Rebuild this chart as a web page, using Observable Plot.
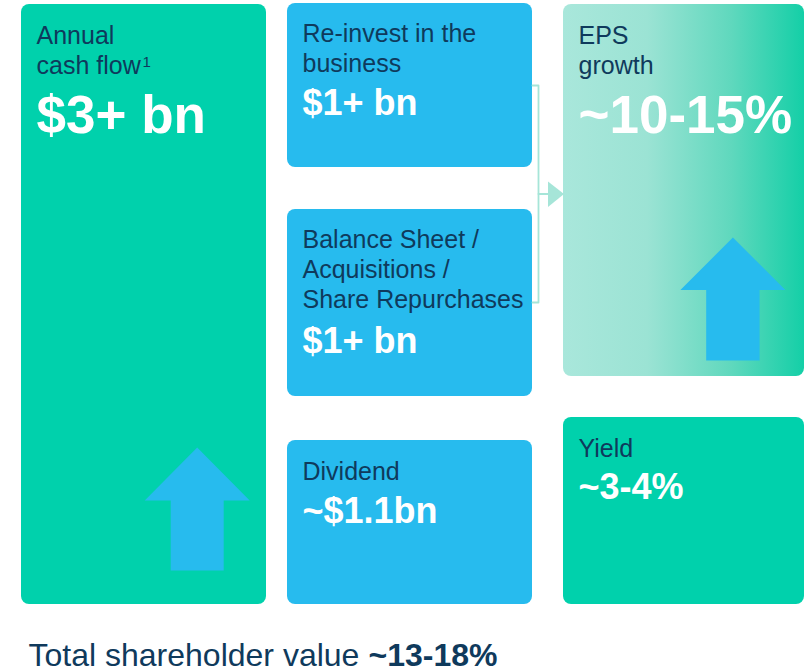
<!DOCTYPE html>
<html>
<head>
<meta charset="utf-8">
<script src="https://cdn.jsdelivr.net/npm/d3@7"></script>
<script src="https://cdn.jsdelivr.net/npm/@observablehq/plot@0.6"></script>
<style>
  html, body { margin: 0; padding: 0; background: #ffffff; overflow: hidden; }
</style>
</head>
<body>
<script>
// ---- chart content (values) ----
const categories = ["Annual cash flow", "Re-invest in the business", "Balance Sheet / Acquisitions / Share Repurchases", "Dividend", "EPS growth", "Yield"];
const labelLines = ["Annual\ncash flow", "Re-invest in the\nbusiness", "Balance Sheet /\nAcquisitions /\nShare Repurchases", "Dividend", "EPS\ngrowth", "Yield"];
const values = ["$3+ bn", "$1+ bn", "$1+ bn", "~$1.1bn", "~10-15%", "~3-4%"];
const footnotes = ["1", "", "", "", "", ""];
const totalLabel = "Total shareholder value";
const totalValue = "~13-18%";

// ---- layout (positions / sizes / styles) ----
const W = 804, H = 671;
const GREEN = "#00D1AC", BLUE = "#27BBEE", NAVY = "#0F3A5C", LINK = "#A6E5D8";
const boxLayout = [
  {x1: 21,  x2: 266, y1: 4,   y2: 604, fill: GREEN,            labelY: 73,  valueY: 132, valueSize: 53},
  {x1: 287, x2: 532, y1: 3,   y2: 167, fill: BLUE,             labelY: 71,  valueY: 114, valueSize: 36},
  {x1: 287, x2: 532, y1: 209, y2: 396, fill: BLUE,             labelY: 307, valueY: 352, valueSize: 36},
  {x1: 287, x2: 532, y1: 440, y2: 604, fill: BLUE,             labelY: 479, valueY: 522, valueSize: 36},
  {x1: 563, x2: 804, y1: 4,   y2: 376, fill: "url(#epsGrad)",  labelY: 73,  valueY: 132, valueSize: 53},
  {x1: 563, x2: 804, y1: 417, y2: 604, fill: GREEN,            labelY: 456, valueY: 498, valueSize: 36}
];
const boxes = categories.map((c, i) => ({category: c, label: labelLines[i], value: values[i], note: footnotes[i], ...boxLayout[i]}));

const arrowLayout = [
  {id: "cash", cx: 196.7, tipY: 447, wingY: 500, halfWing: 52.5, halfShaft: 26.5, baseY: 570},
  {id: "eps",  cx: 732.4, tipY: 237, wingY: 289.5, halfWing: 52.5, halfShaft: 26.7, baseY: 360}
];
const arrowPts = arrowLayout.flatMap(a => [
  [a.cx, a.tipY], [a.cx + a.halfWing, a.wingY], [a.cx + a.halfShaft, a.wingY],
  [a.cx + a.halfShaft, a.baseY], [a.cx - a.halfShaft, a.baseY], [a.cx - a.halfShaft, a.wingY],
  [a.cx - a.halfWing, a.wingY], [a.cx, a.tipY]
].map(([x, y]) => ({id: a.id, x, y})));

const linkPts = [
  {id: "bracket", x: 532, y: 85}, {id: "bracket", x: 538, y: 85},
  {id: "bracket", x: 538, y: 302}, {id: "bracket", x: 532, y: 302},
  {id: "stem", x: 538, y: 193.5}, {id: "stem", x: 549, y: 193.5}
];
const headPts = [{x: 547.5, y: 181}, {x: 563.5, y: 193.5}, {x: 547.5, y: 206.5}, {x: 547.5, y: 181}];

const FONT = "'Liberation Sans', Arial, Helvetica, sans-serif";

const gradientDefs = () => {
  const defs = d3.create("svg:defs");
  const g = defs.append("linearGradient").attr("id", "epsGrad")
    .attr("x1", "0").attr("x2", "1").attr("y1", "0").attr("y2", "0");
  g.append("stop").attr("offset", "0%").attr("stop-color", "#A9E7DB");
  g.append("stop").attr("offset", "35%").attr("stop-color", "#9BE3D4");
  g.append("stop").attr("offset", "70%").attr("stop-color", "#5FD8BD");
  g.append("stop").attr("offset", "100%").attr("stop-color", "#14CFA7");
  return defs.node();
};

const chart = Plot.plot({
  width: W,
  height: H,
  margin: 0,
  x: {type: "linear", domain: [0, W], range: [0, W], axis: null},
  y: {type: "linear", domain: [0, H], range: [0, H], axis: null},
  style: {fontFamily: FONT, background: "#ffffff", overflow: "hidden"},
  marks: [
    gradientDefs,
    Plot.rect(boxes, {x1: "x1", x2: "x2", y1: "y1", y2: "y2", fill: d => d.fill, rx: 8}),
    Plot.line(linkPts, {x: "x", y: "y", z: "id", stroke: LINK, strokeWidth: 1.8, fill: "none"}),
    Plot.line(headPts, {x: "x", y: "y", fill: LINK, stroke: "none"}),
    Plot.line(arrowPts, {x: "x", y: "y", z: "id", fill: BLUE, stroke: "none"}),
    Plot.text(boxes, {
      x: d => d.x1 + 15, y: "labelY", text: "label",
      textAnchor: "start", lineAnchor: "bottom", lineHeight: 1.2,
      fontSize: 25, fill: NAVY
    }),
    Plot.text(boxes.filter(d => d.note), {
      x: d => d.x1 + 121, y: d => d.labelY - 7, text: "note",
      textAnchor: "start", lineAnchor: "bottom",
      fontSize: 15, fill: NAVY
    }),
    Plot.text(boxes, {
      x: d => d.x1 + 15, y: "valueY", text: "value",
      textAnchor: "start", lineAnchor: "bottom",
      fontSize: d => d.valueSize, fontWeight: "bold", fill: "#ffffff"
    }),
    Plot.text([totalLabel], {
      x: () => 28, y: () => 665, text: d => d,
      textAnchor: "start", lineAnchor: "bottom", fontSize: 32, fill: NAVY
    }),
    Plot.text([totalValue], {
      x: () => 368, y: () => 665, text: d => d,
      textAnchor: "start", lineAnchor: "bottom", fontSize: 32, fontWeight: "bold", fill: NAVY
    })
  ]
});

document.body.appendChild(chart);
</script>
</body>
</html>
